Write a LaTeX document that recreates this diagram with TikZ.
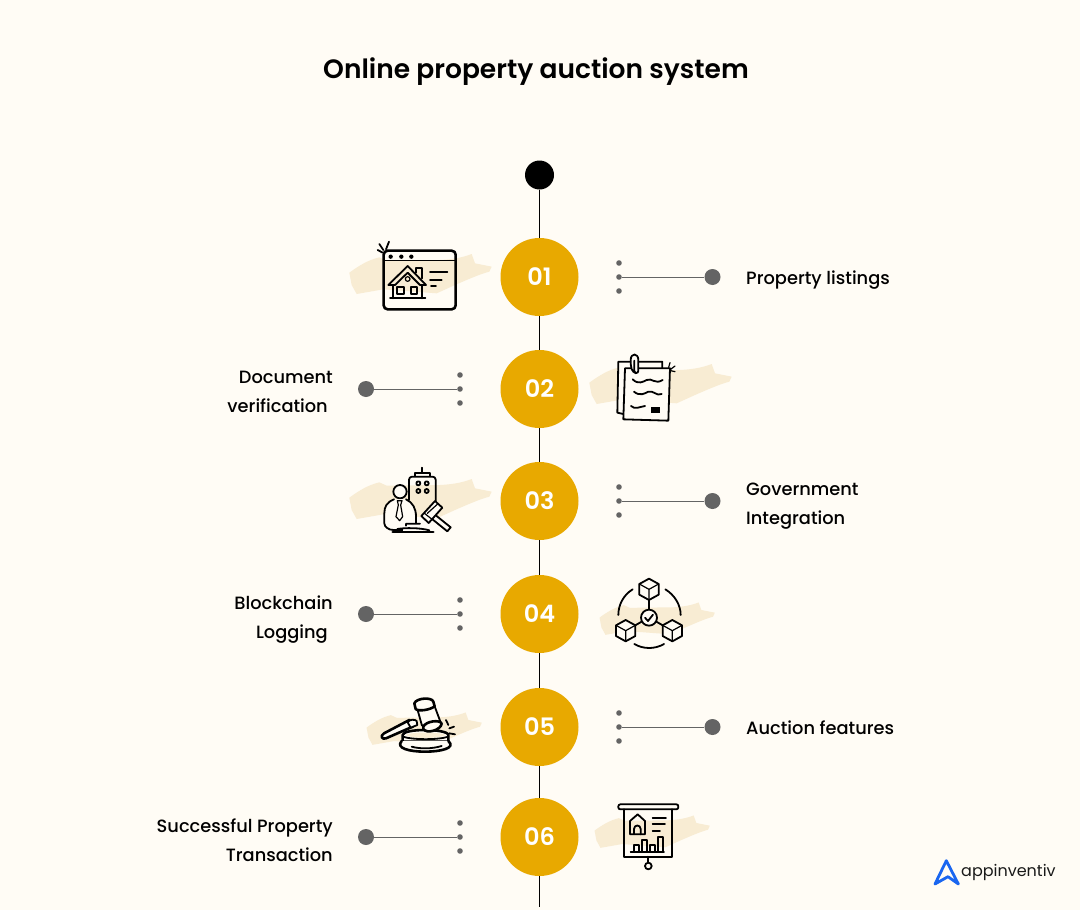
\documentclass[tikz,border=0pt]{standalone}
\usepackage{fontspec}
\setmainfont{Poppins}
\newfontfamily\med{Poppins Medium}
\newfontfamily\semi{Poppins SemiBold}
\definecolor{bgc}{HTML}{FFFCF5}
\definecolor{gold}{HTML}{E8A900}
\definecolor{swash}{HTML}{F8ECD3}
\definecolor{greyd}{HTML}{646464}
\definecolor{logob}{HTML}{1A66F0}
\tikzset{
 num/.style={circle,fill=gold,minimum size=78pt,inner sep=0,text=white,font=\semi\fontsize{24}{24}\selectfont},
 tiny/.style={circle,fill=greyd,minimum size=5.6pt,inner sep=0},
 endd/.style={circle,fill=greyd,minimum size=16pt,inner sep=0},
 link/.style={draw=greyd,line width=0.8pt},
 spine/.style={draw=black,line width=1pt},
 lab/.style={inner sep=0,font=\med\fontsize{17.8}{29}\selectfont},
 ic/.style={line width=1.2pt,line cap=round,line join=round,draw=black},
 icb/.style={line width=1.8pt,line cap=round,line join=round,draw=black},
 ict/.style={line width=2.6pt,line cap=round,line join=round,draw=black},
}
\newcommand{\brushy}{\fill[swash] (28,128) .. controls (60,105) and (85,90) .. (118,82) -- (140,92) -- (300,90) .. controls (340,88) and (370,82) .. (395,72) -- (405,100) -- (455,110) -- (448,125) .. controls (420,132) and (380,150) .. (345,165) -- (290,190) -- (130,178) -- (50,192) -- (35,165) -- cycle;}
\newcommand{\rowR}[2]{%
 \node[tiny] (a#1) at (619,#2-14) {};
 \node[tiny] (b#1) at (619,#2) {};
 \node[tiny] (c#1) at (619,#2+14) {};
 \node[endd] (e#1) at (712.5,#2) {};
 \draw[link] (b#1) -- (e#1);
}
\newcommand{\rowL}[2]{%
 \node[tiny] (a#1) at (460,#2-14) {};
 \node[tiny] (b#1) at (460,#2) {};
 \node[tiny] (c#1) at (460,#2+14) {};
 \node[endd] (e#1) at (366,#2) {};
 \draw[link] (b#1) -- (e#1);
}
\begin{document}
\begin{tikzpicture}[x=1pt,y=-1pt]
\useasboundingbox[fill=bgc] (0,0) rectangle (1080,910);
\node[inner sep=0,font=\semi\fontsize{26.5}{27}\selectfont] (title) at (536,72) {Online property auction system};
% swashes
\begin{scope}[shift={(340,230)},scale=1/3]\brushy\end{scope}
\begin{scope}[shift={(580,340)},scale=1/3]\brushy\end{scope}
\begin{scope}[shift={(340,455)},scale=1/3]\brushy\end{scope}
\begin{scope}[shift={(592,583)},scale=0.27]\brushy\end{scope}
\begin{scope}[shift={(359,693)},scale=0.27]\brushy\end{scope}
\begin{scope}[shift={(587,796)},scale=0.27]\brushy\end{scope}
% spine
\node[circle,fill=black,minimum size=29pt,inner sep=0] (top) at (539.5,175) {};
\node[num] (n1) at (539.5,277) {\raisebox{-1pt}{01}};
\node[num] (n2) at (539.5,389) {\raisebox{-1pt}{02}};
\node[num] (n3) at (539.5,501) {\raisebox{-1pt}{03}};
\node[num] (n4) at (539.5,614) {\raisebox{-1pt}{04}};
\node[num] (n5) at (539.5,727) {\raisebox{-1pt}{05}};
\node[num] (n6) at (539.5,837) {\raisebox{-1pt}{06}};
\coordinate (bot) at (539.5,907);
\draw[spine] (top)--(n1) (n1)--(n2) (n2)--(n3) (n3)--(n4) (n4)--(n5) (n5)--(n6) (n6)--(bot);
% rows
\rowR{1}{277}\rowL{2}{389}\rowR{3}{501}\rowL{4}{614}\rowR{5}{727}\rowL{6}{837}
\node[lab,anchor=west] (t1) at (746,280) {Property listings};
\node[lab,anchor=east,align=right] (t2) at (333,392) {Document\\verification\hspace*{5pt}};
\node[lab,anchor=west,align=left] (t3) at (746,506) {Government\\Integration};
\node[lab,anchor=east,align=right] (t4) at (333,620) {Blockchain\\Logging\hspace*{5pt}};
\node[lab,anchor=west] (t5) at (746,728) {Auction features};
\node[lab,anchor=east,align=right] (t6) at (333,840) {Successful Property\\Transaction};
% icon 1
\begin{scope}[shift={(340,230)},scale=1/3]
\draw[ict,rounded corners=4pt] (131,62) rectangle (347,238);
\draw[ic] (131,92) -- (347,92);
\foreach \x in {152,184,214} \fill (\x,80) circle (6.5);
\draw[icb] (145,165) -- (203,108) -- (258,165) -- (240,165) -- (203,128) -- (165,165) -- cycle;
\draw[icb] (160,165) -- (160,205) (246,165) -- (246,205) (150,205) -- (256,205);
\draw[icb] (172,170) rectangle (192,193) (212,170) rectangle (232,193);
\draw[ic] (203,147) circle (7);
\draw[icb] (228,128) -- (228,115) -- (245,115) -- (245,145);
\draw[icb] (270,125) -- (322,125) (270,150) -- (305,150) (273,168) -- (288,168);
\draw[icb] (113,60) -- (128,68) (118,42) -- (130,60) (147,35) -- (138,58);
\end{scope}
% icon 2
\begin{scope}[shift={(580,340)},scale=1/3]
\draw[icb,fill=bgc] (130,222) -- (112,218) -- (115,65) -- (247,65) -- (247,85);
\draw[icb,fill=bgc] (135,85) -- (270,85) -- (265,242) -- (130,238) -- cycle;
\draw[icb,fill=bgc] (168,100) .. controls (155,95) and (152,85) .. (152,60) .. controls (152,38) and (175,38) .. (175,60) -- (175,92) .. controls (175,102) and (163,100) .. (163,92) -- (163,62);
\draw[icb] (158,118) .. controls (175,135) and (190,125) .. (200,120) .. controls (215,112) and (225,135) .. (248,120);
\draw[icb] (162,155) .. controls (180,170) and (195,160) .. (205,155) .. controls (220,150) and (230,170) .. (245,162);
\draw[icb] (153,198) .. controls (165,210) and (180,200) .. (195,198);
\fill (214,200) rectangle (241,219);
\draw[ic] (270,68) -- (266,82) (285,78) -- (272,88) (285,95) -- (272,92);
\end{scope}
% icon 3
\begin{scope}[shift={(340,455)},scale=1/3]
\draw[icb,rounded corners=3pt] (207,135) -- (207,65) -- (287,65) -- (287,165);
\draw[icb] (225,62) -- (225,53) -- (270,53) -- (270,62) (247,53) -- (247,38);
\foreach \x/\y in {235/85,260/85,235/108,260/108} \draw[icb] (\x,\y) circle (6);
\draw[icb,fill=bgc] (180,110) circle (20);
\draw[icb,fill=bgc] (162,133) .. controls (140,142) and (133,155) .. (133,175) -- (133,205) .. controls (133,215) and (145,225) .. (160,225) -- (228,225) -- (228,185) .. controls (228,160) and (218,142) .. (198,133);
\fill[bgc] (190,205) rectangle (235,229);
\draw[ic] (172,137) -- (186,137) -- (182,150) -- (188,185) -- (179,197) -- (168,185) -- (175,150) -- cycle;
\draw[ict] (158,231) -- (280,231);
\draw[icb] (172,222) .. controls (195,218) and (240,218) .. (268,226) (198,212) -- (198,206) -- (240,206);
\draw[icb,fill=bgc] (270,187) -- (322,229) -- (332,217) -- (280,175) -- cycle;
\draw[icb,fill=bgc] (244,183) -- (285,138) -- (307,158) -- (266,204) -- cycle;
\draw[ic] (252,174) -- (275,192) (293,147) -- (262,175);
\end{scope}
% icon 4
\begin{scope}[shift={(590,570)},scale=1/3]
\foreach \cx/\cy in {177/58,107/182,247/182}{
 \draw[icb,fill=bgc] (\cx,\cy-32) -- (\cx+29,\cy-16) -- (\cx+29,\cy+16) -- (\cx,\cy+32) -- (\cx-29,\cy+16) -- (\cx-29,\cy-16) -- cycle;
 \draw[ic] (\cx-29,\cy-16) -- (\cx,\cy) -- (\cx+29,\cy-16) (\cx,\cy) -- (\cx,\cy+32);
}
\draw[icb] (177,90) -- (177,119) (134,167) -- (155,155) (220,167) -- (199,155);
\draw[icb,fill=bgc] (177,143) circle (24);
\draw[icb] (165,143) -- (174,153) -- (189,134);
\draw[icb] (128,58) .. controls (100,75) and (85,105) .. (85,135);
\draw[icb] (226,58) .. controls (254,75) and (272,105) .. (272,135);
\draw[icb] (133,222) .. controls (160,238) and (195,238) .. (222,222);
\end{scope}
% icon 5
\begin{scope}[shift={(360,685)},scale=1/3]
\draw[ict,fill=bgc] (128,150) .. controls (128,130) and (262,130) .. (265,150) -- (265,170) -- (128,170) -- cycle;
\fill[swash] (135,150) .. controls (160,140) and (235,140) .. (258,150) .. controls (235,162) and (160,162) .. (135,150) -- cycle;
\draw[ict,fill=bgc] (125,168) .. controls (105,190) and (150,200) .. (195,200) .. controls (240,200) and (290,190) .. (265,168);
\draw[icb] (128,155) .. controls (160,165) and (235,165) .. (265,155);
\draw[icb] (155,185) .. controls (180,192) and (215,192) .. (245,183);
\draw[ict,fill=bgc] (148,105) -- (72,145) .. controls (60,152) and (65,165) .. (78,160) -- (158,125) -- cycle;
\draw[icb,fill=bgc] (143,112) .. controls (148,103) and (165,102) .. (170,108) -- (172,120) -- (152,128) -- cycle;
\draw[icb,fill=bgc] (172,72) -- (224,64) -- (243,115) -- (186,122) -- cycle;
\draw[ict,fill=bgc] (163,55) .. controls (170,38) and (216,36) .. (220,50) -- (224,64) .. controls (210,75) and (175,80) .. (167,72) -- cycle;
\draw[ict,fill=bgc] (190,125) .. controls (198,108) and (240,103) .. (245,116) .. controls (243,135) and (200,148) .. (190,132) -- cycle;
\draw[icb] (258,105) -- (265,120) (268,130) -- (282,125) (268,145) -- (285,148);
\end{scope}
% icon 6
\begin{scope}[shift={(590,795)},scale=1/3]
\draw[icb,fill=bgc,rounded corners=2pt] (85,28) rectangle (265,43);
\draw[icb] (103,43) -- (103,185) -- (245,185) -- (245,43);
\draw[icb] (175,185) -- (175,202);
\draw[icb] (175,213) circle (10);
\draw[icb] (120,118) -- (120,78) -- (143,58) -- (165,78) -- (165,118) -- cycle;
\draw[icb] (132,118) -- (132,102) .. controls (132,88) and (152,88) .. (152,102) -- (152,118);
\draw[icb] (188,70) -- (228,70) (188,88) -- (225,88) (188,108) -- (210,108);
\draw[icb] (122,170) -- (222,170);
\draw[icb] (132,170) -- (132,150) -- (148,150) -- (148,170);
\draw[icb] (155,170) -- (155,135) -- (172,135) -- (172,170);
\draw[icb] (180,170) -- (180,150) -- (195,150) -- (195,170);
\draw[icb] (204,170) -- (204,125) -- (219,125) -- (219,170);
\end{scope}
% logo
\begin{scope}[shift={(920,850)},scale=1/3]
\draw[logob,line width=2.8pt,line join=round,line cap=round] (45,102) -- (79,32) -- (115,102) -- (84,80) -- cycle;
\end{scope}
\node[inner sep=0,anchor=west,text=black!90,font=\fontsize{16}{16}\selectfont] (logo) at (961,872) {appinventiv};
\end{tikzpicture}
\end{document}
